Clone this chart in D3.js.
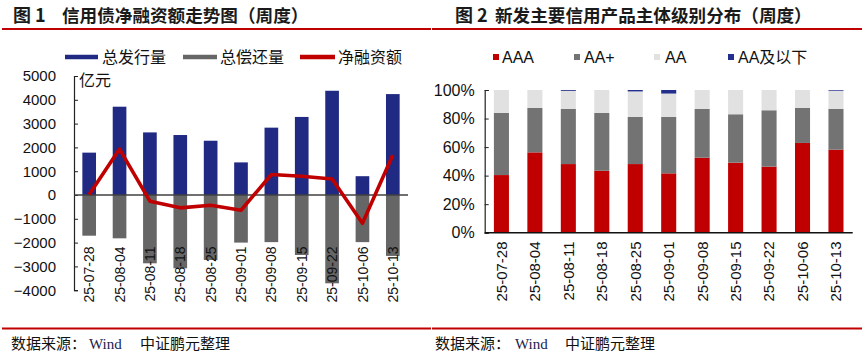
<!DOCTYPE html>
<html><head><meta charset="utf-8">
<script src="https://cdn.jsdelivr.net/npm/d3@7"></script>
<style>
html,body{margin:0;padding:0;background:#fff;}
svg{display:block;font-family:"Liberation Sans","Noto Sans CJK SC",Arial,sans-serif;}
</style></head><body>
<svg id="c" width="864" height="359"></svg>
<script>
// ---------- data ----------
const dates = ["25-07-28","25-08-04","25-08-11","25-08-18","25-08-25","25-09-01","25-09-08","25-09-15","25-09-22","25-10-06","25-10-13"];
// Chart 1 (亿元)
const issuance = [1780, 3710, 2630, 2520, 2280, 1370, 2830, 3280, 4380, 790, 4240];
const repayment = [-1710, -1820, -2870, -3080, -2730, -2000, -1980, -2520, -3710, -1980, -2560];
const netFinancing = [20, 1930, -260, -540, -430, -640, 860, 790, 670, -1190, 1680];
const yTicks1 = [-4000,-3000,-2000,-1000,0,1000,2000,3000,4000,5000];
// Chart 2 (%)
const aaa     = [40.4, 56.3, 48.1, 43.4, 48.1, 41.6, 52.6, 49.1, 46.3, 62.9, 58.2];
const aaPlus  = [43.5, 31.1, 38.6, 40.5, 33.0, 39.5, 34.1, 33.9, 39.5, 24.5, 28.5];
const aa      = [16.1, 12.6, 12.7, 16.1, 17.9, 16.4, 13.3, 17.0, 14.2, 12.6, 12.8];
const aaBelow = [0, 0, 0.6, 0, 1.0, 2.5, 0, 0, 0, 0, 0.5];
const yTicks2 = [0,20,40,60,80,100];

const svg = d3.select("#c");
const RED = "#c00000";

// ---------- frame: titles, rules, sources ----------
function frame(x0, x1, titleNum, titleText, numX, textX, srcX, windX, srcX2){
  svg.append("line").attr("x1",x0).attr("x2",x1).attr("y1",29).attr("y2",29).attr("stroke",RED).attr("stroke-width",2);
  svg.append("line").attr("x1",x0).attr("x2",x1).attr("y1",328.5).attr("y2",328.5).attr("stroke",RED).attr("stroke-width",2);
  svg.append("text").attr("x",numX).attr("y",21.5).attr("font-size",18).attr("font-weight","bold").attr("fill","#1a1a1a")
     .attr("font-family","'Noto Sans CJK SC',sans-serif").text(titleNum);
  svg.append("text").attr("x",textX).attr("y",21.5).attr("font-size",17.6).attr("font-weight","bold").attr("fill","#1a1a1a")
     .attr("font-family","'Noto Sans CJK SC',sans-serif").text(titleText);
  svg.append("text").attr("x",srcX).attr("y",349).attr("font-size",15).attr("fill","#111")
     .attr("font-family","'Noto Sans CJK SC',sans-serif").text("数据来源：");
  svg.append("text").attr("x",windX).attr("y",349).attr("font-size",15).attr("fill","#1a2450")
     .attr("font-family","'Liberation Serif','Times New Roman',serif").text("Wind");
  svg.append("text").attr("x",srcX2).attr("y",349).attr("font-size",15).attr("fill","#111")
     .attr("font-family","'Noto Sans CJK SC',sans-serif").text("中证鹏元整理");
}
frame(2, 431, "图 1", "信用债净融资额走势图（周度）", 13, 62, 11, 89, 140);
frame(432, 862, "图 2", "新发主要信用产品主体级别分布（周度）", 455, 495, 435, 515, 565);

// ---------- chart 1 ----------
const x1 = d3.scaleBand().domain(dates).range([74, 408]).paddingInner(0.55).paddingOuter(0.275);
const y1 = d3.scaleLinear().domain([-4000, 5000]).range([290.2, 76]);
const g1 = svg.append("g");

g1.selectAll("rect.iss").data(dates).join("rect")
  .attr("x", d => x1(d)).attr("width", x1.bandwidth())
  .attr("y", (d,i) => y1(issuance[i])).attr("height", (d,i) => y1(0) - y1(issuance[i]))
  .attr("fill", "#212a82");
g1.selectAll("rect.rep").data(dates).join("rect")
  .attr("x", d => x1(d)).attr("width", x1.bandwidth())
  .attr("y", y1(0)).attr("height", (d,i) => y1(repayment[i]) - y1(0))
  .attr("fill", "#666666");

// y axis
const ax1 = g1.append("g").attr("transform","translate(74,0)")
  .call(d3.axisLeft(y1).tickValues(yTicks1).tickSizeInner(-4).tickSizeOuter(-4).tickPadding(18).tickFormat(d3.format("d")));
ax1.select(".domain").attr("stroke","#222").attr("stroke-width",1.2);
ax1.selectAll(".tick line").attr("stroke","#222");
ax1.selectAll(".tick text").attr("font-size",15).attr("fill","#111").attr("font-family","'Liberation Sans',Arial,sans-serif");

// zero line
g1.append("line").attr("x1",74).attr("x2",408).attr("y1",y1(0)).attr("y2",y1(0)).attr("stroke","#404040").attr("stroke-width",1.4);

// x labels
g1.selectAll("text.xl").data(dates).join("text")
  .attr("transform", d => `translate(${x1(d)+x1.bandwidth()/2},246.5) rotate(-90)`)
  .attr("text-anchor","end").attr("dy","0.36em").attr("font-size",14).attr("fill","#111")
  .text(d => d);

// net line
const line1 = d3.line().x((d,i) => x1(dates[i]) + x1.bandwidth()/2).y(d => y1(d));
g1.append("path").datum(netFinancing).attr("d", line1).attr("fill","none")
  .attr("stroke", RED).attr("stroke-width", 3.6).attr("stroke-linejoin","round");

// unit
g1.append("text").attr("x",79).attr("y",86).attr("font-size",16).attr("fill","#111")
  .attr("font-family","'Noto Sans CJK SC',sans-serif").text("亿元");

// legend 1
const leg1 = [{t:"总发行量",c:"#212a82",x0:65,x1:98,tx:102},{t:"总偿还量",c:"#666666",x0:183,x1:217,tx:220},{t:"净融资额",c:RED,x0:300,x1:335,tx:338}];
leg1.forEach(l => {
  svg.append("line").attr("x1",l.x0).attr("x2",l.x1).attr("y1",57).attr("y2",57).attr("stroke",l.c).attr("stroke-width",4.5);
  svg.append("text").attr("x",l.tx).attr("y",62.8).attr("font-size",16).attr("fill","#111")
    .attr("font-family","'Noto Sans CJK SC',sans-serif").text(l.t);
});

// ---------- chart 2 ----------
const x2 = d3.scaleBand().domain(dates).range([484.7, 852.7]).paddingInner(0.55).paddingOuter(0.275);
const y2 = d3.scaleLinear().domain([0, 100]).range([232.7, 90]);
const keys = ["aaa","aaPlus","aa","aaBelow"];
const colors2 = {aaa:RED, aaPlus:"#737373", aa:"#e1e1e1", aaBelow:"#232f8c"};
const rows = dates.map((d,i) => ({date:d, aaa:aaa[i], aaPlus:aaPlus[i], aa:aa[i], aaBelow:aaBelow[i]}));
const stacked = d3.stack().keys(keys)(rows);
const g2 = svg.append("g");
g2.selectAll("g.s").data(stacked).join("g").attr("fill", s => colors2[s.key])
  .selectAll("rect").data(s => s).join("rect")
  .attr("x", d => x2(d.data.date)).attr("width", x2.bandwidth())
  .attr("y", d => y2(d[1])).attr("height", d => y2(d[0]) - y2(d[1]));

const ax2 = g2.append("g").attr("transform","translate(484.7,0)")
  .call(d3.axisLeft(y2).tickValues(yTicks2).tickSizeInner(-4).tickSizeOuter(-4).tickPadding(10).tickFormat(d => d + "%"));
ax2.select(".domain").attr("stroke","#222").attr("stroke-width",1.2);
ax2.selectAll(".tick line").attr("stroke","#222");
ax2.selectAll(".tick text").attr("font-size",16).attr("fill","#111").attr("font-family","'Liberation Sans',Arial,sans-serif");

g2.append("line").attr("x1",484.7).attr("x2",852.7).attr("y1",y2(0)).attr("y2",y2(0)).attr("stroke","#111").attr("stroke-width",1.5);

g2.selectAll("text.xl").data(dates).join("text")
  .attr("transform", d => `translate(${x2(d)+x2.bandwidth()/2},241.5) rotate(-90)`)
  .attr("text-anchor","end").attr("dy","0.36em").attr("font-size",15).attr("fill","#111")
  .text(d => d);

// legend 2
const leg2 = [{t:"AAA",k:"aaa",x:493,tx:502},{t:"AA+",k:"aaPlus",x:574,tx:584},{t:"AA",k:"aa",x:654,tx:665},{t:"AA及以下",k:"aaBelow",x:728,tx:738}];
leg2.forEach(l => {
  svg.append("rect").attr("x",l.x).attr("y",54).attr("width",6).attr("height",6).attr("fill",colors2[l.k]);
  svg.append("text").attr("x",l.tx).attr("y",62.8).attr("font-size",16).attr("fill","#111").text(l.t);
});
</script>
</body></html>
